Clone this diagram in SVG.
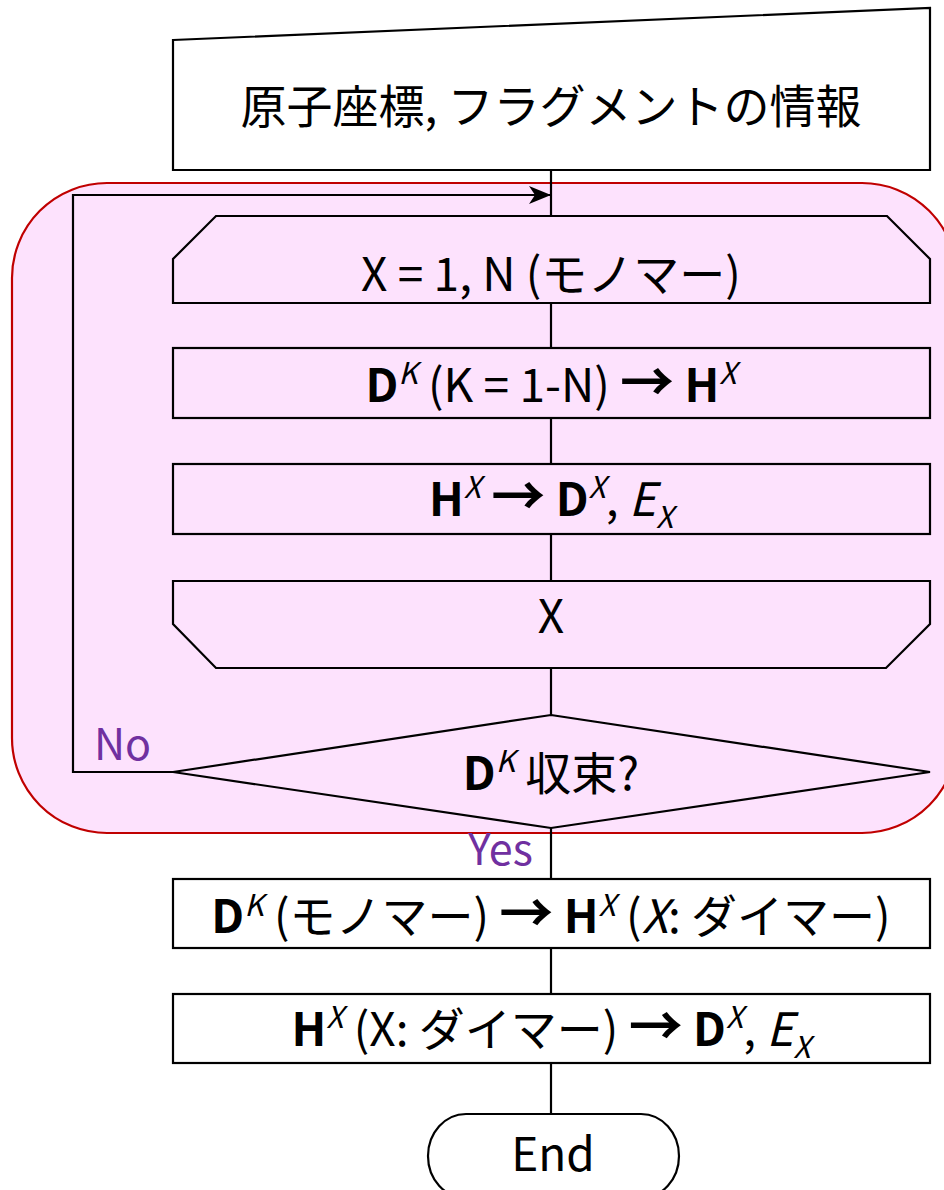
<svg xmlns="http://www.w3.org/2000/svg" width="944" height="1190" viewBox="0 0 944 1190">
<style>
.s{stroke:#000;stroke-width:2.2;fill:none}
.w{stroke:#000;stroke-width:2.2;fill:#fff}
.p{stroke:#000;stroke-width:2.2;fill:#fde2fd}
.t{font-family:"Noto Sans CJK JP","Noto Sans",sans-serif;font-size:46px;fill:#000;text-anchor:middle}
.b{font-weight:bold}
.i{font-style:italic}
.ar{font-weight:bold;font-size:54px}
.sup{font-size:30px;font-style:italic}
.lab{font-family:"Noto Sans CJK JP","Noto Sans",sans-serif;font-size:43px;fill:#7030a0}
</style>
<defs>
<marker id="ah" markerWidth="24" markerHeight="18" refX="22" refY="9" orient="auto" markerUnits="userSpaceOnUse">
<path d="M0,0 L22,9 L0,18 L6,9 Z" fill="#000"/>
</marker>
</defs>
<rect id="loop-region" x="12" y="183" width="945" height="650" rx="95" ry="95" fill="#fde2fd" stroke="#c00000" stroke-width="2.2"/>
<g id="connectors">
<line class="s" x1="551" y1="170" x2="551" y2="216"/>
<line class="s" x1="551" y1="303" x2="551" y2="348"/>
<line class="s" x1="551" y1="418" x2="551" y2="464"/>
<line class="s" x1="551" y1="534" x2="551" y2="581"/>
<line class="s" x1="551" y1="668" x2="551" y2="715"/>
<line class="s" x1="551" y1="828" x2="551" y2="879"/>
<line class="s" x1="551" y1="948" x2="551" y2="994"/>
<line class="s" x1="551" y1="1063" x2="551" y2="1114"/>
<polyline class="s" points="173,772 73,772 73,195 551,195" marker-end="url(#ah)"/>
<text class="lab" x="94" y="760">No</text>
<text class="lab" x="468" y="865">Yes</text>
</g>
<g id="input">
<polygon class="w" points="173,40 930,8 930,170 173,170"/>
<text class="t" x="551" y="123">原子座標, フラグメントの情報</text>
</g>
<g id="loop-start">
<polygon class="p" points="216,216 887,216 930,259 930,303 173,303 173,259"/>
<text class="t" x="551" y="291">X = 1, N (モノマー)</text>
</g>
<g id="step1">
<rect class="p" x="173" y="348" width="757" height="70"/>
<text class="t" x="551" y="402"><tspan class="b">D</tspan><tspan class="sup" dy="-18">K</tspan><tspan dy="18"> (K = 1-N) </tspan><tspan class="ar">→</tspan><tspan class="b"> H</tspan><tspan class="sup" dy="-18">X</tspan></text>
</g>
<g id="step2">
<rect class="p" x="173" y="464" width="757" height="70"/>
<text class="t" x="551" y="516"><tspan class="b">H</tspan><tspan class="sup" dy="-18">X</tspan><tspan dy="18"> </tspan><tspan class="ar">→</tspan><tspan class="b"> D</tspan><tspan class="sup" dy="-18">X</tspan><tspan dy="18">, </tspan><tspan class="i">E</tspan><tspan class="sup" dy="12">X</tspan></text>
</g>
<g id="loop-end">
<polygon class="p" points="173,581 930,581 930,624 886,668 216,668 173,624"/>
<text class="t" x="551" y="633">X</text>
</g>
<g id="decision">
<polygon class="p" points="551,715 930,772 551,828 173,772"/>
<text class="t" x="551" y="790"><tspan class="b">D</tspan><tspan class="sup" dy="-18">K</tspan><tspan dy="18"> 収束?</tspan></text>
</g>
<g id="step3">
<rect class="w" x="173" y="879" width="757" height="69"/>
<text class="t" x="551" y="933"><tspan class="b">D</tspan><tspan class="sup" dy="-17">K</tspan><tspan dy="17"> (モノマー) </tspan><tspan class="ar">→</tspan><tspan class="b"> H</tspan><tspan class="sup" dy="-17">X</tspan><tspan dy="17"> (</tspan><tspan class="i">X</tspan><tspan>: ダイマー)</tspan></text>
</g>
<g id="step4">
<rect class="w" x="173" y="994" width="757" height="69"/>
<text class="t" x="551" y="1046"><tspan class="b">H</tspan><tspan class="sup" dy="-18">X</tspan><tspan dy="18"> (X: ダイマー) </tspan><tspan class="ar">→</tspan><tspan class="b"> D</tspan><tspan class="sup" dy="-18">X</tspan><tspan dy="18">, </tspan><tspan class="i">E</tspan><tspan class="sup" dy="12">X</tspan></text>
</g>
<g id="end">
<rect class="w" x="428" y="1114" width="251" height="84" rx="38" ry="42"/>
<text class="t" x="553" y="1171">End</text>
</g>
</svg>
